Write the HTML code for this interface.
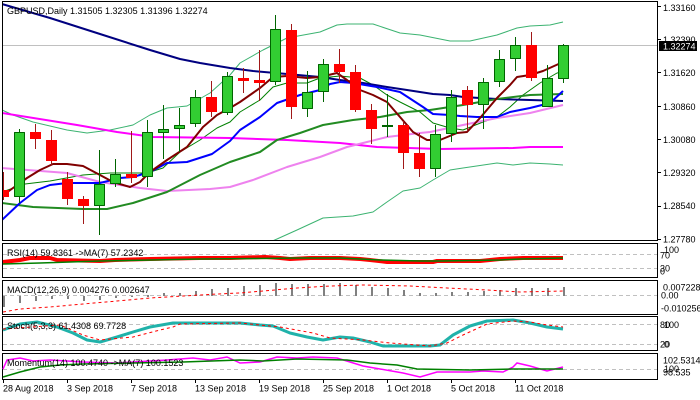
<!DOCTYPE html>
<html><head><meta charset="utf-8"><style>
html,body{margin:0;padding:0;background:#fff;}
svg{display:block;}
text{font-family:"Liberation Sans",sans-serif;font-size:9px;fill:#000;}
</style></head><body>
<svg width="700" height="400" viewBox="0 0 700 400" xmlns="http://www.w3.org/2000/svg">
<rect x="0" y="0" width="700" height="400" fill="#fff"/>
<defs><clipPath id="mc"><rect x="3" y="2" width="654" height="238"/></clipPath></defs>

<g clip-path="url(#mc)" fill="none" stroke-linejoin="round">
<line x1="2" y1="45.5" x2="657" y2="45.5" stroke="#c0c0c0" stroke-width="1"/>
<polyline stroke="#3cb371" stroke-width="1" points="2,110 13,115 33,122 67,130 87,133 110,130 133,125 150,115 167,108 187,106 210,93 230,75 240,63 263,50 287,38 320,32 337,25 347,24 373,24 400,33 420,35 450,41 470,41 497,35 517,28 530,26 550,25 563,22"/>
<polyline stroke="#3cb371" stroke-width="1" points="270,242 277,239 297,230 323,218 353,216 373,212 387,202 403,191 420,188 433,180 450,170 463,168 497,163 513,165 530,163 550,164 563,165"/>
<polyline stroke="#008000" stroke-width="1" points="2,192 25,184 50,181 83,175 110,173 147,173 163,168 180,152 200,140 217,128 230,122 240,112 260,100 273,87 287,83 307,83 320,78 340,76 360,78 373,85 387,95 400,102 420,112 433,123 450,128 463,130 483,122 497,117 510,107 523,95 540,83 557,73 563,72"/>
<polyline stroke="#000080" stroke-width="2" points="2,4 50,18 100,34 150,50 180,59 200,63 230,68 253,71 287,74 320,77 340,80 363,83 387,87 407,90 433,94 450,95 463,97 497,99 530,100 563,101"/>
<polyline stroke="#ff00ff" stroke-width="2" points="2,113 77,125 117,132 153,137 230,138 287,140 340,143 377,147 440,149 513,148 530,147 563,147"/>
<polyline stroke="#ee82ee" stroke-width="2" points="2,168 67,173 100,182 140,188 167,191 210,189 230,187 253,180 287,167 320,157 347,147 363,143 387,137 420,133 430,132 463,125 497,118 530,113 563,105"/>
<polyline stroke="#228b22" stroke-width="2" points="2,203 33,207 83,209 107,209 133,203 167,192 200,175 230,162 260,152 277,140 300,133 323,125 353,120 380,117 407,112 430,110 463,105 497,99 530,95 563,94"/>
<polyline stroke="#0000ff" stroke-width="2" points="2,220 20,203 37,190 50,185 67,183 100,183 120,178 133,177 150,172 167,163 187,162 212,154 230,141 240,130 260,117 277,103 300,95 320,90 330,84 340,82 353,83 377,87 400,92 423,107 433,114 450,115 460,116 477,117 497,117 510,112 530,108 550,103 563,91"/>
<polyline stroke="#800000" stroke-width="2" points="2,196 13,188 27,178 40,170 53,164 67,164 83,166 100,175 113,182 130,187 140,182 150,172 167,160 187,147 203,127 217,115 230,108 240,102 260,88 273,77 287,76 307,78 320,77 337,73 347,80 360,90 373,95 387,102 400,117 413,132 427,140 440,140 457,133 467,132 480,118 497,98 510,85 517,77 530,75 543,71 563,62"/>

<g stroke-width="1">
<!-- candles: wick then body -->
<line x1="3.5" y1="172" x2="3.5" y2="200" stroke="#a01818"/><rect x="-2" y="190" width="11" height="7" fill="#ff0000" stroke="none"/>
<line x1="19.5" y1="129" x2="19.5" y2="203" stroke="#006400"/><rect x="14.5" y="132.5" width="10" height="64" fill="#32cd32" stroke="#006400"/>
<line x1="35.5" y1="124" x2="35.5" y2="149" stroke="#a01818"/><rect x="30" y="132" width="11" height="7" fill="#ff0000" stroke="none"/>
<line x1="51.5" y1="130" x2="51.5" y2="165" stroke="#a01818"/><rect x="46" y="140" width="11" height="21" fill="#ff0000" stroke="none"/>
<line x1="67.5" y1="172" x2="67.5" y2="205" stroke="#a01818"/><rect x="62" y="179" width="11" height="20" fill="#ff0000" stroke="none"/>
<line x1="83.5" y1="196" x2="83.5" y2="224" stroke="#a01818"/><rect x="78" y="199" width="11" height="7" fill="#ff0000" stroke="none"/>
<line x1="99.5" y1="150" x2="99.5" y2="235" stroke="#006400"/><rect x="94.5" y="184.5" width="10" height="21" fill="#32cd32" stroke="#006400"/>
<line x1="115.5" y1="159" x2="115.5" y2="187" stroke="#006400"/><rect x="110.5" y="174.5" width="10" height="9" fill="#32cd32" stroke="#006400"/>
<line x1="131.5" y1="131" x2="131.5" y2="183" stroke="#a01818"/><rect x="126" y="174" width="11" height="4" fill="#ff0000" stroke="none"/>
<line x1="147.5" y1="120" x2="147.5" y2="187" stroke="#006400"/><rect x="142.5" y="132.5" width="10" height="44" fill="#32cd32" stroke="#006400"/>
<line x1="163.5" y1="105" x2="163.5" y2="159" stroke="#006400"/><rect x="158.5" y="129.5" width="10" height="3" fill="#32cd32" stroke="#006400"/>
<line x1="179.5" y1="108" x2="179.5" y2="152" stroke="#006400"/><rect x="174.5" y="125.5" width="10" height="3" fill="#32cd32" stroke="#006400"/>
<line x1="195.5" y1="90" x2="195.5" y2="127" stroke="#006400"/><rect x="190.5" y="97.5" width="10" height="26" fill="#32cd32" stroke="#006400"/>
<line x1="211.5" y1="81" x2="211.5" y2="117" stroke="#a01818"/><rect x="206" y="97" width="11" height="15" fill="#ff0000" stroke="none"/>
<line x1="227.5" y1="72" x2="227.5" y2="115" stroke="#006400"/><rect x="222.5" y="76.5" width="10" height="36" fill="#32cd32" stroke="#006400"/>
<line x1="243.5" y1="68" x2="243.5" y2="93" stroke="#a01818"/><rect x="238" y="78" width="11" height="3" fill="#ff0000" stroke="none"/>
<line x1="259.5" y1="50" x2="259.5" y2="101" stroke="#a01818"/><rect x="254" y="80" width="11" height="3" fill="#ff0000" stroke="none"/>
<line x1="275.5" y1="15" x2="275.5" y2="85" stroke="#006400"/><rect x="270.5" y="29.5" width="10" height="52" fill="#32cd32" stroke="#006400"/>
<line x1="291.5" y1="24" x2="291.5" y2="119" stroke="#a01818"/><rect x="286" y="30" width="11" height="77" fill="#ff0000" stroke="none"/>
<line x1="307.5" y1="71" x2="307.5" y2="117" stroke="#006400"/><rect x="302.5" y="92.5" width="10" height="16" fill="#32cd32" stroke="#006400"/>
<line x1="323.5" y1="59" x2="323.5" y2="102" stroke="#006400"/><rect x="318.5" y="64.5" width="10" height="27" fill="#32cd32" stroke="#006400"/>
<line x1="339.5" y1="49" x2="339.5" y2="83" stroke="#a01818"/><rect x="334" y="64" width="11" height="8" fill="#ff0000" stroke="none"/>
<line x1="355.5" y1="65" x2="355.5" y2="112" stroke="#a01818"/><rect x="350" y="72" width="11" height="38" fill="#ff0000" stroke="none"/>
<line x1="371.5" y1="104" x2="371.5" y2="144" stroke="#a01818"/><rect x="366" y="110" width="11" height="19" fill="#ff0000" stroke="none"/>
<line x1="387.5" y1="94" x2="387.5" y2="137" stroke="#006400"/><rect x="382" y="125" width="11" height="2" fill="#006400" stroke="none"/>
<line x1="403.5" y1="121" x2="403.5" y2="169" stroke="#a01818"/><rect x="398" y="125" width="11" height="28" fill="#ff0000" stroke="none"/>
<line x1="419.5" y1="133" x2="419.5" y2="177" stroke="#a01818"/><rect x="414" y="153" width="11" height="16" fill="#ff0000" stroke="none"/>
<line x1="435.5" y1="125" x2="435.5" y2="177" stroke="#006400"/><rect x="430.5" y="134.5" width="10" height="34" fill="#32cd32" stroke="#006400"/>
<line x1="451.5" y1="90" x2="451.5" y2="142" stroke="#006400"/><rect x="446.5" y="97.5" width="10" height="36" fill="#32cd32" stroke="#006400"/>
<line x1="467.5" y1="86" x2="467.5" y2="130" stroke="#a01818"/><rect x="462" y="90" width="11" height="15" fill="#ff0000" stroke="none"/>
<line x1="483.5" y1="78" x2="483.5" y2="129" stroke="#006400"/><rect x="478.5" y="82.5" width="10" height="22" fill="#32cd32" stroke="#006400"/>
<line x1="499.5" y1="50" x2="499.5" y2="87" stroke="#006400"/><rect x="494.5" y="59.5" width="10" height="22" fill="#32cd32" stroke="#006400"/>
<line x1="515.5" y1="37" x2="515.5" y2="71" stroke="#006400"/><rect x="510.5" y="45.5" width="10" height="13" fill="#32cd32" stroke="#006400"/>
<line x1="531.5" y1="32" x2="531.5" y2="81" stroke="#a01818"/><rect x="526" y="45" width="11" height="33" fill="#ff0000" stroke="none"/>
<line x1="547.5" y1="65" x2="547.5" y2="107" stroke="#006400"/><rect x="542.5" y="78.5" width="10" height="28" fill="#32cd32" stroke="#006400"/>
<line x1="563.5" y1="44" x2="563.5" y2="83" stroke="#006400"/><rect x="558.5" y="45.5" width="10" height="33" fill="#32cd32" stroke="#006400"/>
</g>
</g>

<!-- panel borders -->
<g fill="none" stroke="#000" stroke-width="1">
<rect x="2.5" y="1.5" width="655" height="239"/>
<rect x="2.5" y="243.5" width="655" height="34"/>
<rect x="2.5" y="280.5" width="655" height="34"/>
<rect x="2.5" y="316.5" width="655" height="34"/>
<rect x="2.5" y="353.5" width="655" height="26"/>
</g>

<!-- dashed level lines -->
<g stroke="#c0c0c0" stroke-width="1" stroke-dasharray="4,3">
<line x1="3" y1="254.5" x2="657" y2="254.5"/>
<line x1="3" y1="268.5" x2="657" y2="268.5"/>
<line x1="3" y1="295.5" x2="657" y2="295.5"/>
<line x1="3" y1="324.5" x2="657" y2="324.5"/>
<line x1="3" y1="344.5" x2="657" y2="344.5"/>
<line x1="3" y1="369.5" x2="657" y2="369.5"/>
</g>

<!-- RSI -->
<g fill="none" stroke-linejoin="round">
<polyline stroke="#ff0000" stroke-width="4" points="3,262 20,260 30,258 50,258 57,260 100,261 115,260 150,259 200,258 230,258 265,257 280,258 290,259 310,258 340,258 360,259 370,260 387,262 433,262 437,261 480,261 490,260 500,259 523,258 563,258"/>
<polyline stroke="#008000" stroke-width="1.5" points="3,264 40,263 100,261 200,259 300,258 340,258 380,260 420,261 440,261 500,260 520,259 563,258"/>
</g>

<!-- MACD -->
<g stroke="#808080" stroke-width="2">
<line x1="4" y1="296" x2="4" y2="307"/><line x1="20" y1="296" x2="20" y2="303"/><line x1="36" y1="296" x2="36" y2="301"/><line x1="52" y1="296" x2="52" y2="299"/><line x1="68" y1="296" x2="68" y2="299"/><line x1="84" y1="296" x2="84" y2="301"/><line x1="100" y1="296" x2="100" y2="300"/><line x1="116" y1="296" x2="116" y2="298"/><line x1="132" y1="296" x2="132" y2="297"/><line x1="148" y1="295" x2="148" y2="297"/>
<line x1="164" y1="293" x2="164" y2="296"/><line x1="180" y1="293" x2="180" y2="296"/><line x1="196" y1="291" x2="196" y2="296"/><line x1="212" y1="289" x2="212" y2="296"/><line x1="228" y1="288" x2="228" y2="296"/><line x1="244" y1="286" x2="244" y2="296"/><line x1="260" y1="285" x2="260" y2="296"/><line x1="276" y1="283" x2="276" y2="296"/><line x1="292" y1="284" x2="292" y2="296"/><line x1="308" y1="284" x2="308" y2="296"/><line x1="324" y1="284" x2="324" y2="296"/><line x1="340" y1="283" x2="340" y2="296"/><line x1="356" y1="285" x2="356" y2="296"/><line x1="372" y1="287" x2="372" y2="296"/><line x1="388" y1="288" x2="388" y2="296"/><line x1="404" y1="290" x2="404" y2="296"/><line x1="420" y1="293" x2="420" y2="296"/><line x1="436" y1="293" x2="436" y2="296"/><line x1="452" y1="292" x2="452" y2="296"/><line x1="468" y1="292" x2="468" y2="296"/><line x1="484" y1="291" x2="484" y2="296"/><line x1="500" y1="290" x2="500" y2="296"/><line x1="516" y1="288" x2="516" y2="296"/><line x1="532" y1="288" x2="532" y2="296"/><line x1="548" y1="288" x2="548" y2="296"/><line x1="564" y1="287" x2="564" y2="296"/>
</g>
<polyline fill="none" stroke="#ff0000" stroke-width="1" stroke-dasharray="3,3" points="3,312 20,309 50,307 83,304 117,301 150,298 183,296 217,294 240,293 263,291 297,288 330,286 363,285 410,286 447,288 487,290 520,292 563,291"/>

<!-- Stoch -->
<polyline fill="none" stroke="#20b2aa" stroke-width="3" stroke-linejoin="round" points="3,330 20,324 37,322 57,327 73,333 87,340 100,342 117,337 133,332 150,327 173,323 240,323 260,325 273,326 290,333 307,337 323,340 340,337 353,338 370,342 383,346 430,346 440,345 453,335 470,326 487,321 513,320 530,323 547,327 563,329"/>
<polyline fill="none" stroke="#ff0000" stroke-width="1" stroke-dasharray="3,3" points="3,329 60,325 83,335 100,340 133,337 160,330 173,327 180,324 240,323 280,327 313,333 330,338 363,340 390,343 430,346 447,343 463,335 487,324 513,321 530,322 547,325 563,327"/>

<!-- Momentum -->
<polyline fill="none" stroke="#ff00ff" stroke-width="1.5" points="3,369 7,360 20,358 33,361 50,360 67,361 83,362 117,363 133,362 167,360 193,358 210,360 227,357 240,363 260,362 277,357 297,358 313,357 337,358 363,366 380,369 403,373 420,377 437,372 470,372 483,371 503,372 513,367 517,363 530,366 547,371 563,367"/>
<polyline fill="none" stroke="#008000" stroke-width="1.5" points="3,377 20,372 40,367 60,365 83,364 133,363 183,362 240,360 263,361 297,359 347,360 370,363 397,365 417,369 470,370 513,369 563,369"/>

<!-- labels in panels -->
<text x="7" y="14">GBPUSD,Daily  1.31505 1.32305 1.31396 1.32274</text>
<text x="7" y="256">RSI(14) 59.8361  -&gt;MA(7) 57.2342</text>
<text x="7" y="293">MACD(12,26,9) 0.004276 0.002647</text>
<text x="7" y="329">Stoch(5,3,3) 61.4308 69.7728</text>
<text x="7" y="366">Momentum(14) 100.4740  -&gt;MA(7) 100.1523</text>

<!-- right axis ticks -->
<g stroke="#000" stroke-width="1">
<line x1="657" y1="6.5" x2="661" y2="6.5"/><line x1="657" y1="39.5" x2="661" y2="39.5"/><line x1="657" y1="72.5" x2="661" y2="72.5"/><line x1="657" y1="106.5" x2="661" y2="106.5"/><line x1="657" y1="139.5" x2="661" y2="139.5"/><line x1="657" y1="172.5" x2="661" y2="172.5"/><line x1="657" y1="206.5" x2="661" y2="206.5"/><line x1="657" y1="239.5" x2="661" y2="239.5"/>
</g>
<text x="663" y="10.8">1.33160</text>
<text x="663" y="43">1.32390</text>
<text x="663" y="75.8">1.31620</text>
<text x="663" y="110.2">1.30860</text>
<text x="663" y="142.8">1.30080</text>
<text x="663" y="176.2">1.29320</text>
<text x="663" y="209.2">1.28540</text>
<text x="663" y="242.5">1.27780</text>
<rect x="659" y="41" width="38" height="10" fill="#000"/>
<text x="663" y="49.5" style="fill:#fff">1.32274</text>

<text x="664" y="253">100</text>
<text x="660" y="258.5">70</text>
<text x="660" y="271.5">30</text>
<text x="660" y="274.5">0</text>
<text x="663" y="290.5">0.007228</text>
<text x="661" y="298.5">0.00</text>
<text x="661" y="311.5">-0.010256</text>
<text x="664" y="328">100</text>
<text x="660" y="328">80</text>
<text x="660" y="347.5">20</text>
<text x="664" y="347.5">0</text>
<text x="663" y="363.5">102.5314</text>
<text x="664" y="372">100</text>
<text x="663" y="375.5">98.535</text>

<!-- x axis -->
<g stroke="#000" stroke-width="1">
<line x1="3.5" y1="380" x2="3.5" y2="383"/><line x1="67.5" y1="380" x2="67.5" y2="383"/><line x1="131.5" y1="380" x2="131.5" y2="383"/><line x1="195.5" y1="380" x2="195.5" y2="383"/><line x1="259.5" y1="380" x2="259.5" y2="383"/><line x1="323.5" y1="380" x2="323.5" y2="383"/><line x1="387.5" y1="380" x2="387.5" y2="383"/><line x1="451.5" y1="380" x2="451.5" y2="383"/><line x1="515.5" y1="380" x2="515.5" y2="383"/>
</g>
<text x="3" y="391.5">28 Aug 2018</text>
<text x="67" y="391.5">3 Sep 2018</text>
<text x="131" y="391.5">7 Sep 2018</text>
<text x="195" y="391.5">13 Sep 2018</text>
<text x="259" y="391.5">19 Sep 2018</text>
<text x="323" y="391.5">25 Sep 2018</text>
<text x="387" y="391.5">1 Oct 2018</text>
<text x="451" y="391.5">5 Oct 2018</text>
<text x="515" y="391.5">11 Oct 2018</text>
</svg>
</body></html>
